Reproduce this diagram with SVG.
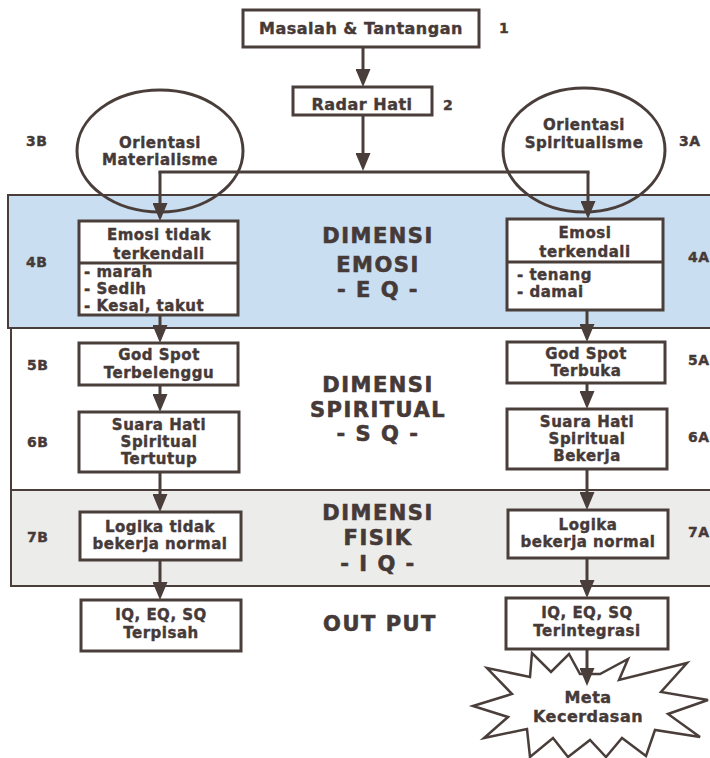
<svg xmlns="http://www.w3.org/2000/svg" width="710" height="758" viewBox="0 0 710 758">
<style>
.t{font-family:"DejaVu Sans","Liberation Sans",sans-serif;font-weight:bold;fill:#463a38;stroke:#463a38;stroke-width:0.4;font-size:15px;letter-spacing:0.5px;text-anchor:middle}
.big{font-size:21px;letter-spacing:1.5px;stroke-width:0.6}
.lbl{font-size:14px;text-anchor:start;letter-spacing:0.5px}
.lst{text-anchor:start}
.box{fill:#fff;stroke:#4a3e3b;stroke-width:3}
.ell{fill:none;stroke:#4a3e3b;stroke-width:3}
.band{stroke:#4a3e3b;stroke-width:2}
.con{fill:none;stroke:#4a3e3b;stroke-width:3}
.arr{marker-end:url(#ah)}
</style>
<defs>
<marker id="ah" viewBox="0 0 18 15" refX="8" refY="7.5" markerWidth="18" markerHeight="15" markerUnits="userSpaceOnUse" orient="auto">
<path d="M0,0 L18,7.5 L0,15 z" fill="#4a3e3b"/>
</marker>
</defs>
<rect width="710" height="758" fill="#fff"/>
<g id="bands">
<rect class="band" x="8" y="195" width="720" height="133" fill="#c9def0"/>
<rect class="band" x="11" y="328" width="720" height="162" fill="#ffffff"/>
<rect class="band" x="11" y="490" width="720" height="96" fill="#ececea"/>
<text class="t big" x="378" y="243">DIMENSI</text>
<text class="t big" x="378" y="272">EMOSI</text>
<text class="t big" x="378" y="297">- E Q -</text>
<text class="t big" x="378" y="392">DIMENSI</text>
<text class="t big" x="378" y="417">SPIRITUAL</text>
<text class="t big" x="378" y="441">- S Q -</text>
<text class="t big" x="378" y="520">DIMENSI</text>
<text class="t big" x="378" y="545">FISIK</text>
<text class="t big" x="378" y="571">- I Q -</text>
<text class="t big" x="380" y="631">OUT PUT</text>
</g>
<g id="labels">
<text class="t lbl" x="499" y="33">1</text>
<text class="t lbl" x="443" y="110">2</text>
<text class="t lbl" x="26" y="146">3B</text>
<text class="t lbl" x="26" y="267">4B</text>
<text class="t lbl" x="27" y="370">5B</text>
<text class="t lbl" x="27" y="447">6B</text>
<text class="t lbl" x="27" y="542">7B</text>
<text class="t lbl" x="679" y="146">3A</text>
<text class="t lbl" x="688" y="262">4A</text>
<text class="t lbl" x="688" y="365">5A</text>
<text class="t lbl" x="688" y="442">6A</text>
<text class="t lbl" x="688" y="537">7A</text>
</g>
<g id="n1"><rect class="box" x="243" y="10" width="236" height="37"/><text class="t" x="361" y="34" style="font-size:16px">Masalah &amp; Tantangan</text></g>
<g id="n2"><rect class="box" x="293" y="87" width="139" height="28"/><text class="t" x="362" y="110" style="font-size:16px">Radar Hati</text></g>
<g id="n3b"><ellipse class="ell" cx="160" cy="151" rx="83" ry="61"/><text class="t" x="160" y="148">Orientasi</text><text class="t" x="160" y="165">Materialisme</text></g>
<g id="n3a"><ellipse class="ell" cx="584" cy="150" rx="81" ry="62"/><text class="t" x="584" y="130">Orientasi</text><text class="t" x="584" y="148">Spiritualisme</text></g>
<g id="n4b"><rect class="box" x="79" y="221" width="159" height="94"/><line class="con" x1="79" y1="263" x2="238" y2="263"/><text class="t" x="159" y="240">Emosi tidak</text><text class="t" x="159" y="259">terkendali</text><text class="t lst" x="84" y="277">- marah</text><text class="t lst" x="84" y="294">- Sedih</text><text class="t lst" x="84" y="311">- Kesal, takut</text></g>
<g id="n4a"><rect class="box" x="507" y="219" width="156" height="91"/><line class="con" x1="507" y1="262" x2="663" y2="262"/><text class="t" x="585" y="238">Emosi</text><text class="t" x="585" y="257">terkendali</text><text class="t lst" x="517" y="280">- tenang</text><text class="t lst" x="517" y="297">- damai</text></g>
<g id="n5b"><rect class="box" x="79" y="343" width="159" height="42"/><text class="t" x="159" y="360">God Spot</text><text class="t" x="159" y="378">Terbelenggu</text></g>
<g id="n5a"><rect class="box" x="507" y="342" width="158" height="41"/><text class="t" x="586" y="359">God Spot</text><text class="t" x="586" y="376">Terbuka</text></g>
<g id="n6b"><rect class="box" x="79" y="412" width="160" height="60"/><text class="t" x="159" y="430">Suara Hati</text><text class="t" x="159" y="447">Spiritual</text><text class="t" x="159" y="464">Tertutup</text></g>
<g id="n6a"><rect class="box" x="507" y="409" width="160" height="60"/><text class="t" x="587" y="427">Suara Hati</text><text class="t" x="587" y="444">Spiritual</text><text class="t" x="587" y="461">Bekerja</text></g>
<g id="n7b"><rect class="box" x="80" y="512" width="161" height="48"/><text class="t" x="160" y="532">Logika tidak</text><text class="t" x="160" y="549">bekerja normal</text></g>
<g id="n7a"><rect class="box" x="508" y="510" width="160" height="48"/><text class="t" x="588" y="530">Logika</text><text class="t" x="588" y="547">bekerja normal</text></g>
<g id="n8b"><rect class="box" x="81" y="600" width="160" height="51"/><text class="t" x="161" y="620">IQ, EQ, SQ</text><text class="t" x="161" y="638">Terpisah</text></g>
<g id="n8a"><rect class="box" x="506" y="598" width="162" height="51"/><text class="t" x="587" y="618">IQ, EQ, SQ</text><text class="t" x="587" y="636">Terintegrasi</text></g>
<g id="n9"><path class="box" d="M473,706 L512,694 L487,668 L530,677 L532,653 L551,672 L569,654 L580,674 L600,674 L628,659 L619,680 L687,663 L661,692 L708,700 L668,714 L700,737 L655,730 L646,756 L622,738 L606,757 L590,740 L568,757 L553,738 L530,757 L527,729 L484,738 L508,717 Z" style="stroke-width:2.5"/><text class="t" x="588" y="703" style="font-size:16px">Meta</text><text class="t" x="588" y="722" style="font-size:16px">Kecerdasan</text></g>
<g id="connectors">
<line class="con arr" x1="363" y1="47" x2="363" y2="77"/>
<line class="con arr" x1="363" y1="115" x2="363" y2="161"/>
<line class="con" x1="158.5" y1="172" x2="589.5" y2="172"/>
<line class="con arr" x1="160" y1="172" x2="160" y2="211"/>
<line class="con arr" x1="588" y1="172" x2="588" y2="209"/>
<line class="con arr" x1="160" y1="315" x2="160" y2="333"/>
<line class="con arr" x1="160" y1="385" x2="160" y2="402"/>
<line class="con arr" x1="160" y1="472" x2="160" y2="502"/>
<line class="con arr" x1="160" y1="560" x2="160" y2="590"/>
<line class="con arr" x1="587" y1="310" x2="587" y2="332"/>
<line class="con arr" x1="587" y1="383" x2="587" y2="399"/>
<line class="con arr" x1="587" y1="469" x2="587" y2="500"/>
<line class="con arr" x1="587" y1="558" x2="587" y2="588"/>
<line class="con arr" x1="587" y1="649" x2="587" y2="676"/>
</g>
</svg>
